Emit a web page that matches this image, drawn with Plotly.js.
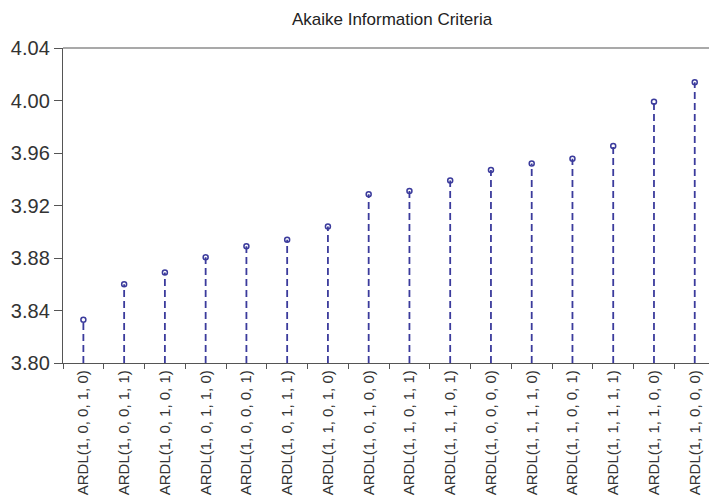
<!DOCTYPE html>
<html>
<head>
<meta charset="utf-8">
<script src="https://cdn.plot.ly/plotly-3.0.1.min.js"></script>
<style>html,body{margin:0;padding:0;background:#fff;}#chart{width:709px;height:499px;}</style>
</head>
<body>
<div id="chart"></div>
<script>
const models = [
  "ARDL(1, 0, 0, 1, 0)", "ARDL(1, 0, 0, 1, 1)", "ARDL(1, 0, 1, 0, 1)", "ARDL(1, 0, 1, 1, 0)",
  "ARDL(1, 0, 0, 0, 1)", "ARDL(1, 0, 1, 1, 1)", "ARDL(1, 1, 0, 1, 0)", "ARDL(1, 0, 1, 0, 0)",
  "ARDL(1, 1, 0, 1, 1)", "ARDL(1, 1, 1, 0, 1)", "ARDL(1, 0, 0, 0, 0)", "ARDL(1, 1, 1, 1, 0)",
  "ARDL(1, 1, 0, 0, 1)", "ARDL(1, 1, 1, 1, 1)", "ARDL(1, 1, 1, 0, 0)", "ARDL(1, 1, 0, 0, 0)"
];
const aicValues = [3.833, 3.860, 3.869, 3.8805, 3.889, 3.894, 3.904, 3.9285,
                   3.931, 3.939, 3.947, 3.952, 3.9557, 3.9653, 3.999, 4.014];
const yTickVals = [3.80, 3.84, 3.88, 3.92, 3.96, 4.00, 4.04];
const baseValue = 3.80;

const stemX = [], stemY = [];
models.forEach((m, i) => { stemX.push(m, m, null); stemY.push(baseValue, aicValues[i], null); });

const col = '#3b3b9c';
const traces = [
  {x: stemX, y: stemY, type: 'scatter', mode: 'lines',
   line: {color: col, width: 1.8, dash: '7px,4px'}, hoverinfo: 'skip', cliponaxis: false},
  {x: models, y: aicValues, type: 'scatter', mode: 'markers',
   marker: {symbol: 'circle-open', size: 5, color: col, line: {width: 1.5, color: col}}}
];

const font = 'Liberation Sans, Arial, sans-serif';
const layout = {
  width: 709, height: 499,
  margin: {l: 63, r: 0, t: 48, b: 136},
  paper_bgcolor: '#fff', plot_bgcolor: '#fff',
  showlegend: false,
  title: {text: 'Akaike Information Criteria', font: {family: font, size: 17, color: '#222'},
          xref: 'container', x: 0.553, xanchor: 'center', yref: 'container', y: 0.962, yanchor: 'middle'},
  xaxis: {
    type: 'category', range: [-0.5, 15.35], tickangle: -90,
    tickson: 'boundaries', ticks: 'outside', ticklen: 5, tickwidth: 1, tickcolor: '#555',
    showline: true, linecolor: '#555', linewidth: 1.2, showgrid: false, zeroline: false,
    tickfont: {family: font, size: 15, color: '#333'}
  },
  yaxis: {
    range: [3.80, 4.04], tickvals: yTickVals, tickformat: '.2f',
    ticks: 'outside', ticklen: 8, tickwidth: 1, tickcolor: '#555',
    showline: true, linecolor: '#555', linewidth: 1.2, showgrid: false, zeroline: false,
    tickfont: {family: font, size: 20, color: '#333'}
  },
  shapes: [{type: 'line', xref: 'paper', yref: 'paper', x0: 0, x1: 1, y0: 1, y1: 1,
            line: {color: '#555', width: 1.2}}]
};
Plotly.newPlot('chart', traces, layout, {displayModeBar: false, staticPlot: true});
</script>
</body>
</html>
